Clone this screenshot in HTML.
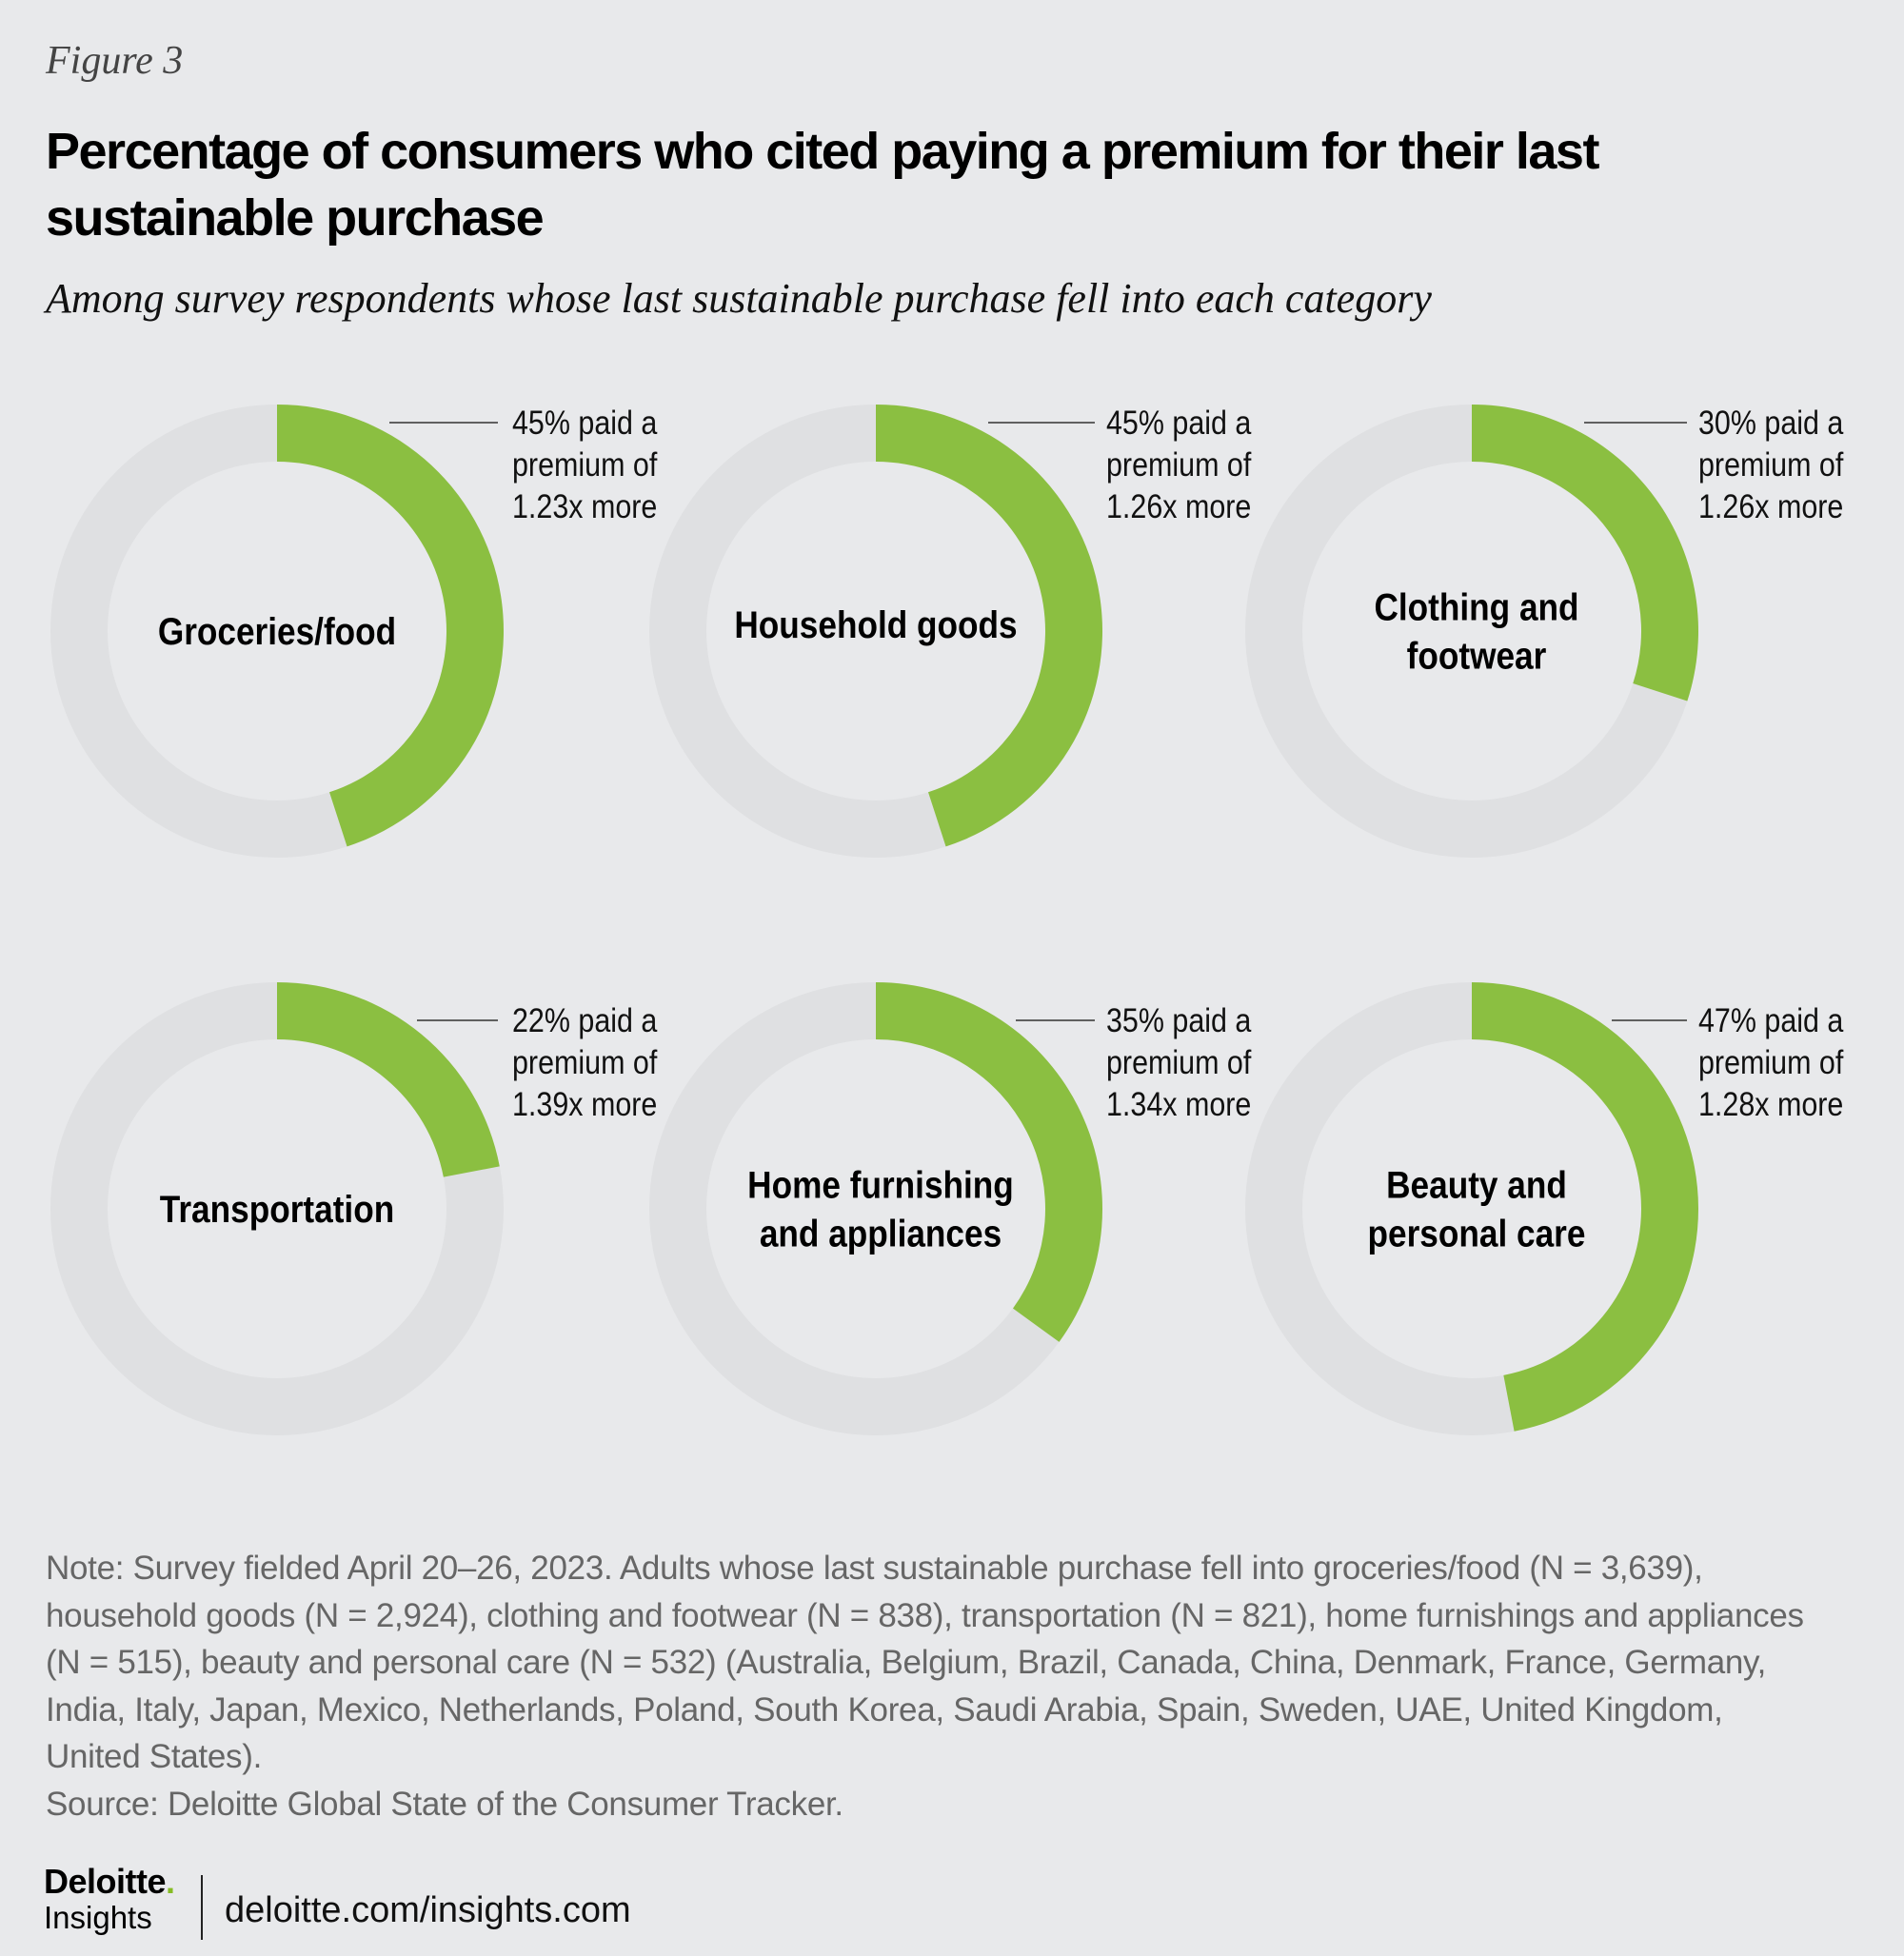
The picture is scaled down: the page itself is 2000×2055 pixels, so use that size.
<!DOCTYPE html>
<html><head><meta charset="utf-8">
<style>
html,body{margin:0;padding:0;background:#e8e9eb;}
body{width:2000px;height:2055px;position:relative;overflow:hidden;font-family:"Liberation Sans Narrow","Liberation Sans",sans-serif;}
.fig{position:absolute;left:48px;top:40px;font:italic 42px "Liberation Serif",serif;color:#444;}
.title{position:absolute;left:48px;top:124px;font-weight:bold;font-size:54px;line-height:70px;color:#000;letter-spacing:-1.5px;font-family:"Liberation Sans Narrow","Liberation Sans",sans-serif;}
.sub{position:absolute;left:48px;top:288px;font:italic 44px "Liberation Serif",serif;color:#111;}
.note{position:absolute;left:48px;top:1623px;white-space:nowrap;font-size:35px;line-height:49.5px;color:#666;letter-spacing:-0.3px;}
.brand{position:absolute;left:46px;top:1958px;font-weight:bold;font-size:36px;color:#000;line-height:38px;letter-spacing:-0.5px;}
.ins{position:absolute;left:46px;top:1996px;font-size:33px;color:#000;}
.url{position:absolute;left:236px;top:1986px;font-size:38px;color:#111;}
</style></head>
<body>
<div class="fig">Figure 3</div>
<div class="title">Percentage of consumers who cited paying a premium for their last<br>sustainable purchase</div>
<div class="sub">Among survey respondents whose last sustainable purchase fell into each category</div>
<svg id="chart" width="2000" height="1600" style="position:absolute;left:0;top:0"></svg>
<div class="note">Note: Survey fielded April 20–26, 2023. Adults whose last sustainable purchase fell into groceries/food (N = 3,639),<br>household goods (N = 2,924), clothing and footwear (N = 838), transportation (N = 821), home furnishings and appliances<br>(N = 515), beauty and personal care (N = 532) (Australia, Belgium, Brazil, Canada, China, Denmark, France, Germany,<br>India, Italy, Japan, Mexico, Netherlands, Poland, South Korea, Saudi Arabia, Spain, Sweden, UAE, United Kingdom,<br>United States).<br>Source: Deloitte Global State of the Consumer Tracker.</div>
<div class="brand">Deloitte<span style="color:#86bc25">.</span></div>
<div class="ins">Insights</div>
<div style="position:absolute;left:211px;top:1970px;width:2px;height:68px;background:#222"></div>
<div class="url">deloitte.com/insights.com</div>
<script>
const categories=[["Groceries/food"],["Household goods"],["Clothing and","footwear"],["Transportation"],["Home furnishing","and appliances"],["Beauty and","personal care"]];
const percents=[45,45,30,22,35,47];
const multipliers=["1.23x","1.26x","1.26x","1.39x","1.34x","1.28x"];
const NS="http://www.w3.org/2000/svg";
const svg=document.getElementById('chart');
const colX=[291,920,1546], rowY=[663,1270];
const R=238, r=178;
const textOff=[247,242,238], lineEnd=[232,230,226];
function mk(t,a){const e=document.createElementNS(NS,t);for(const k in a)e.setAttribute(k,a[k]);svg.appendChild(e);return e;}
function pt(cx,cy,rad,frac){const a=frac*2*Math.PI;return [cx+rad*Math.sin(a),cy-rad*Math.cos(a)];}
function squeeze(t,k){const w=t.getComputedTextLength();t.setAttribute('textLength',w*k);t.setAttribute('lengthAdjust','spacingAndGlyphs');}
categories.forEach((cat,i)=>{
  const row=Math.floor(i/3), col=i%3;
  const cx=colX[col], cy=rowY[row];
  const ring=mk('circle',{cx:cx,cy:cy,r:(R+r)/2,fill:'none',stroke:'#dfe0e2','stroke-width':R-r});
  
  
  const f=percents[i]/100;
  const [x1,y1]=pt(cx,cy,R,0),[x2,y2]=pt(cx,cy,R,f),[x3,y3]=pt(cx,cy,r,f),[x4,y4]=pt(cx,cy,r,0);
  const lg=f>0.5?1:0;
  const arc=mk('path',{d:`M${x1},${y1} A${R},${R} 0 ${lg} 1 ${x2},${y2} L${x3},${y3} A${r},${r} 0 ${lg} 0 ${x4},${y4} Z`,fill:'#8bbf41'});
  
  
  const ly=row===0?cy-219:cy-198;
  const ln=mk('line',{x1:cx+(row===0?118:147),y1:ly,x2:cx+lineEnd[col],y2:ly,stroke:'#333','stroke-width':1.5});
  
  
  const lines=[percents[i]+"% paid a","premium of",multipliers[i]+" more"];
  lines.forEach((s,j)=>{
    const t=mk('text',{x:cx+textOff[col],y:ly+12+j*44,'font-size':35,fill:'#111','font-family':'"Liberation Sans Narrow","Liberation Sans",sans-serif'});
    t.textContent=s;
    
    
    squeeze(t,0.87);
  });
  const n=cat.length;
  cat.forEach((s,j)=>{
    const tw=mk('text',{x:0,y:0,'font-size':40,'font-weight':'bold','font-family':'"Liberation Sans Narrow","Liberation Sans",sans-serif'});
    tw.textContent=s;
    const w=tw.getComputedTextLength()*0.88;
    svg.removeChild(tw);
    const xc=cx+(n>1?5:0);
    const t=mk('text',{x:xc-w/2,y:cy+14+(j-(n-1)/2)*51-(i===1?7:0),'font-size':40,'font-weight':'bold',fill:'#000','font-family':'"Liberation Sans Narrow","Liberation Sans",sans-serif',textLength:w,lengthAdjust:'spacingAndGlyphs'});
    t.textContent=s;
    
    
  });
});
</script>
</body></html>
